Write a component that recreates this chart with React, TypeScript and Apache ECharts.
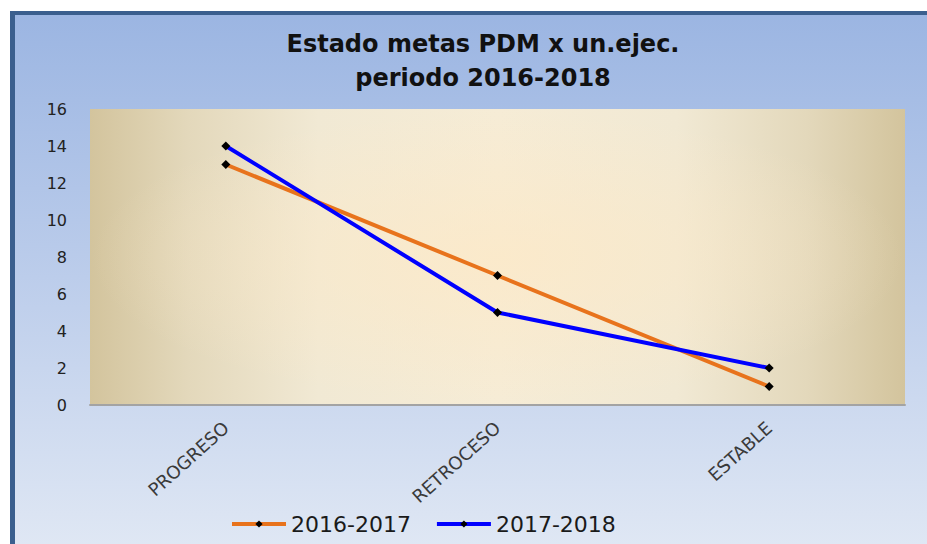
import React, { useEffect, useRef } from "react";
import * as echarts from "echarts";

const categories = ["PROGRESO", "RETROCESO", "ESTABLE"];
const series2016_2017 = [13, 7, 1];
const series2017_2018 = [14, 5, 2];
const seriesNames = ["2016-2017", "2017-2018"];
const titleLines = ["Estado metas PDM x un.ejec.", "periodo 2016-2018"];

export default function App() {
  const ref = useRef<HTMLDivElement>(null);
  useEffect(() => {
    if (!ref.current) return;
    const chart = echarts.init(ref.current, null, { renderer: "svg" });
    const font = "DejaVu Sans";
    chart.setOption({
      animation: false,
      backgroundColor: "#ffffff",
      graphic: [
        {
          type: "rect",
          z: -10,
          shape: { x: 10, y: 11, width: 917, height: 533 },
          style: {
            fill: new echarts.graphic.LinearGradient(0, 0, 0, 1, [
              { offset: 0, color: "#9bb5e2" },
              { offset: 0.5, color: "#bccdeb" },
              { offset: 1, color: "#dfe7f4" },
            ]),
          },
        },
        { type: "rect", z: -9, shape: { x: 10, y: 11, width: 917, height: 4 }, style: { fill: "#3b5f8e" } },
        { type: "rect", z: -9, shape: { x: 10, y: 11, width: 5, height: 533 }, style: { fill: "#3b5f8e" } },
        {
          type: "rect",
          z: -8,
          shape: { x: 90, y: 109, width: 815, height: 296 },
          style: {
            fill: new echarts.graphic.LinearGradient(0, 0, 1, 0, [
              { offset: 0, color: "#d3c49d" },
              { offset: 0.12, color: "#e3d8bb" },
              { offset: 0.28, color: "#f1e9d4" },
              { offset: 0.5, color: "#f6ecd6" },
              { offset: 0.72, color: "#f1e9d4" },
              { offset: 0.88, color: "#e3d8bb" },
              { offset: 1, color: "#d3c49d" },
            ]),
          },
        },
        {
          type: "rect",
          z: -7,
          shape: { x: 90, y: 109, width: 815, height: 296 },
          style: {
            fill: new echarts.graphic.RadialGradient(0.5, 0.5, 0.5, [
              { offset: 0, color: "rgba(252,233,200,0.8)" },
              { offset: 1, color: "rgba(252,233,200,0)" },
            ]),
          },
        },
      ],
      title: {
        text: titleLines.join("\n"),
        left: 478,
        top: 22,
        textAlign: "center",
        textStyle: {
          fontFamily: "DejaVu Sans",
          fontWeight: "bold",
          fontSize: 24,
          lineHeight: 34,
          color: "#111111",
        },
      },
      legend: {
        left: 225,
        top: 508,
        itemWidth: 54,
        itemHeight: 9,
        itemGap: 24,
        lineStyle: { width: 4 },
        textStyle: { fontFamily: font, fontSize: 22, color: "#1a1a1a" },
        data: seriesNames,
      },
      grid: { left: 90, top: 109, right: 22, bottom: 139, containLabel: false },
      xAxis: {
        type: "category",
        data: categories,
        boundaryGap: true,
        axisLine: { show: true, lineStyle: { color: "#a3a3a3", width: 2 } },
        axisTick: { show: false },
        axisLabel: {
          rotate: 42,
          margin: 20,
          fontFamily: font,
          fontSize: 18,
          color: "#3a3a3a",
        },
      },
      yAxis: {
        type: "value",
        min: 0,
        max: 16,
        interval: 2,
        axisLine: { show: false },
        axisTick: { show: false },
        splitLine: { show: false },
        axisLabel: { margin: 23, fontFamily: font, fontSize: 16, color: "#222222" },
      },
      series: [
        {
          name: seriesNames[0],
          type: "line",
          data: series2016_2017,
          symbol: "diamond",
          symbolSize: 9,
          lineStyle: { color: "#e8731c", width: 4 },
          itemStyle: { color: "#000000" },
        },
        {
          name: seriesNames[1],
          type: "line",
          data: series2017_2018,
          symbol: "diamond",
          symbolSize: 9,
          lineStyle: { color: "#0000ff", width: 4 },
          itemStyle: { color: "#000000" },
        },
      ],
    });
    return () => chart.dispose();
  }, []);
  return (
    <div
      ref={ref}
      style={{ position: "fixed", left: 0, top: 0, width: 927, height: 544 }}
    />
  );
}
